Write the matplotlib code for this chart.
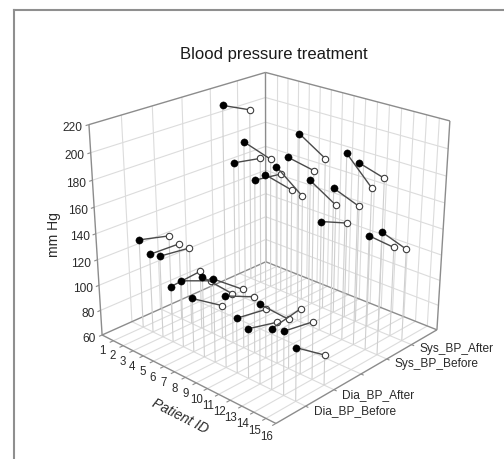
import matplotlib
matplotlib.use('Agg')
import matplotlib.pyplot as plt
from matplotlib.lines import Line2D
from mpl_toolkits.mplot3d import proj3d

plt.rcParams['font.family'] = ['Liberation Sans', 'DejaVu Sans']

patient_ticks = list(range(1, 17))
patients = list(range(1, 16))
dia_before = [130, 122, 124, 104, 112, 102, 122, 124, 115, 102, 98, 120, 106, 108, 100]
dia_after = [124, 121, 121, 106, 102, 86, 99, 106, 104, 98, 92, 98, 110, 104, 83]
sys_before = [210, 168, 187, 160, 167, 176, 186, 206, 174, 146, 174, 202, 198, 148, 154]
sys_after = [200, 164, 166, 157, 147, 145, 168, 180, 147, 136, 152, 169, 179, 130, 132]
stage_ticks = [1, 2, 3, 4, 5]
stage_labels = ['Dia_BP_Before', 'Dia_BP_After', '', 'Sys_BP_Before', 'Sys_BP_After']
mmhg_ticks = [60, 80, 100, 120, 140, 160, 180, 200, 220]

xmin, xmax = -0.174, 15.809
ymin, ymax = 0, 6.079
zmin, zmax = 60, 220

W, H = 504, 459
GRID = '#dcdcdc'
EDGE = '#8c8c8c'
DROP = '#cfcfcf'
TEXT = '#2a2a2a'

fig = plt.figure(figsize=(W / 100, H / 100), dpi=100)
ax = fig.add_axes([0.1248, 0.044, 0.801, 0.8795], projection='3d')
ax.computed_zorder = False
ax.set_axis_off()
ax.set_proj_type('persp', focal_length=0.5565)
ax.view_init(elev=23.51, azim=-46.783)
ax.set_box_aspect((1.075, 1.078, 1.0))


def seg(p, q, color, lw, z):
    ax.plot([p[0], q[0]], [p[1], q[1]], [p[2], q[2]], color=color, lw=lw, zorder=z, solid_capstyle='butt')


# grid on the floor and the two walls
for x in patient_ticks[:-1]:
    seg((x, ymin, zmin), (x, ymax, zmin), GRID, 0.8, 1)
    seg((x, ymax, zmin), (x, ymax, zmax), GRID, 0.8, 1)
for y in stage_ticks:
    seg((xmin, y, zmin), (xmax, y, zmin), GRID, 0.8, 1)
    seg((xmin, y, zmin), (xmin, y, zmax), GRID, 0.8, 1)
for z in mmhg_ticks[1:-1]:
    seg((xmin, ymin, z), (xmin, ymax, z), GRID, 0.8, 1)
    seg((xmin, ymax, z), (xmax, ymax, z), GRID, 0.8, 1)

# box edges
box = [((xmin, ymin, zmin), (xmax, ymin, zmin)), ((xmax, ymin, zmin), (xmax, ymax, zmin)),
       ((xmin, ymin, zmin), (xmin, ymax, zmin)), ((xmin, ymax, zmin), (xmax, ymax, zmin)),
       ((xmin, ymin, zmin), (xmin, ymin, zmax)), ((xmin, ymax, zmin), (xmin, ymax, zmax)),
       ((xmax, ymax, zmin), (xmax, ymax, zmax)), ((xmin, ymin, zmax), (xmin, ymax, zmax)),
       ((xmin, ymax, zmax), (xmax, ymax, zmax))]
for p, q in box:
    seg(p, q, EDGE, 1.0, 2)

# tick marks
for x in patient_ticks:
    seg((min(x, xmax), ymin, zmin), (min(x, xmax), ymin - 0.12, zmin), EDGE, 0.8, 2)
for y in stage_ticks:
    seg((xmax, y, zmin), (xmax + 0.22, y, zmin), EDGE, 0.8, 2)
for z in mmhg_ticks:
    seg((xmin, ymin, z), (xmin, ymin - 0.1, z), EDGE, 0.8, 2)

# drop lines
for values, y in [(dia_before, 1), (dia_after, 2), (sys_before, 4), (sys_after, 5)]:
    for x, v in zip(patients, values):
        seg((x, y, zmin), (x, y, v), DROP, 0.8, 3)

# before -> after pairs, front patients on top
order = 10
for i, x in enumerate(patients):
    for before, after, y in [(sys_before, sys_after, 4), (dia_before, dia_after, 1)]:
        ax.plot([x, x], [y, y + 1], [before[i], after[i]], color='#4a4a4a', lw=1.0, zorder=order)
        ax.plot([x], [y + 1], [after[i]], marker='o', ms=4.6, mfc='white', mec='#3c3c3c', mew=0.8,
                ls='none', zorder=order + 1)
        ax.plot([x], [y], [before[i]], marker='o', ms=5.2, mfc='black', mec='black', mew=0.3,
                ls='none', zorder=order + 2)
        order += 3

ax.set_xlim(xmin, xmax)
ax.set_ylim(ymin, ymax)
ax.set_zlim(zmin, zmax)

M = ax.get_proj()


def label(x, y, z, s, size=8.6, **kw):
    # plain 2D text at the projected spot
    px, py, _ = proj3d.proj_transform(x, y, z, M)
    ax.text2D(px, py, s, transform=ax.transData, fontsize=size, color=TEXT, va='center', **kw)


for x in patient_ticks:
    # the last label sits a bit past the box corner
    label(x if x < 16 else xmax + 0.15, ymin - 0.36, zmin - 4.5, str(x), size=8.3, ha='center')
for y, text in zip(stage_ticks, stage_labels):
    if text:
        label(xmax + 0.67, y, zmin - 1, text, ha='left')
for z in mmhg_ticks:
    label(xmin, ymin - 0.2, z - 1, str(z), ha='right')

fig.text(273.5 / W, 1 - 54 / H, 'Blood pressure treatment', fontsize=12, color='#1a1a1a', ha='center', va='center')
fig.text(54 / W, 1 - 235 / H, 'mm Hg', fontsize=10, color=TEXT, rotation=90, ha='center', va='center')
fig.text(180 / W, 1 - 416 / H, 'Patient ID', fontsize=10, color=TEXT, rotation=-27, style='italic',
         ha='center', va='center', rotation_mode='anchor')

# outer frame, cut by the image on the right and at the bottom
frame = dict(color='#8f8f8f', lw=1.5)
fig.add_artist(Line2D([13.5 / W, 13.5 / W], [0, 1 - 10 / H], **frame))
fig.add_artist(Line2D([13.5 / W, 1], [1 - 10 / H, 1 - 10 / H], **frame))

fig.savefig('out.png', dpi=100)
